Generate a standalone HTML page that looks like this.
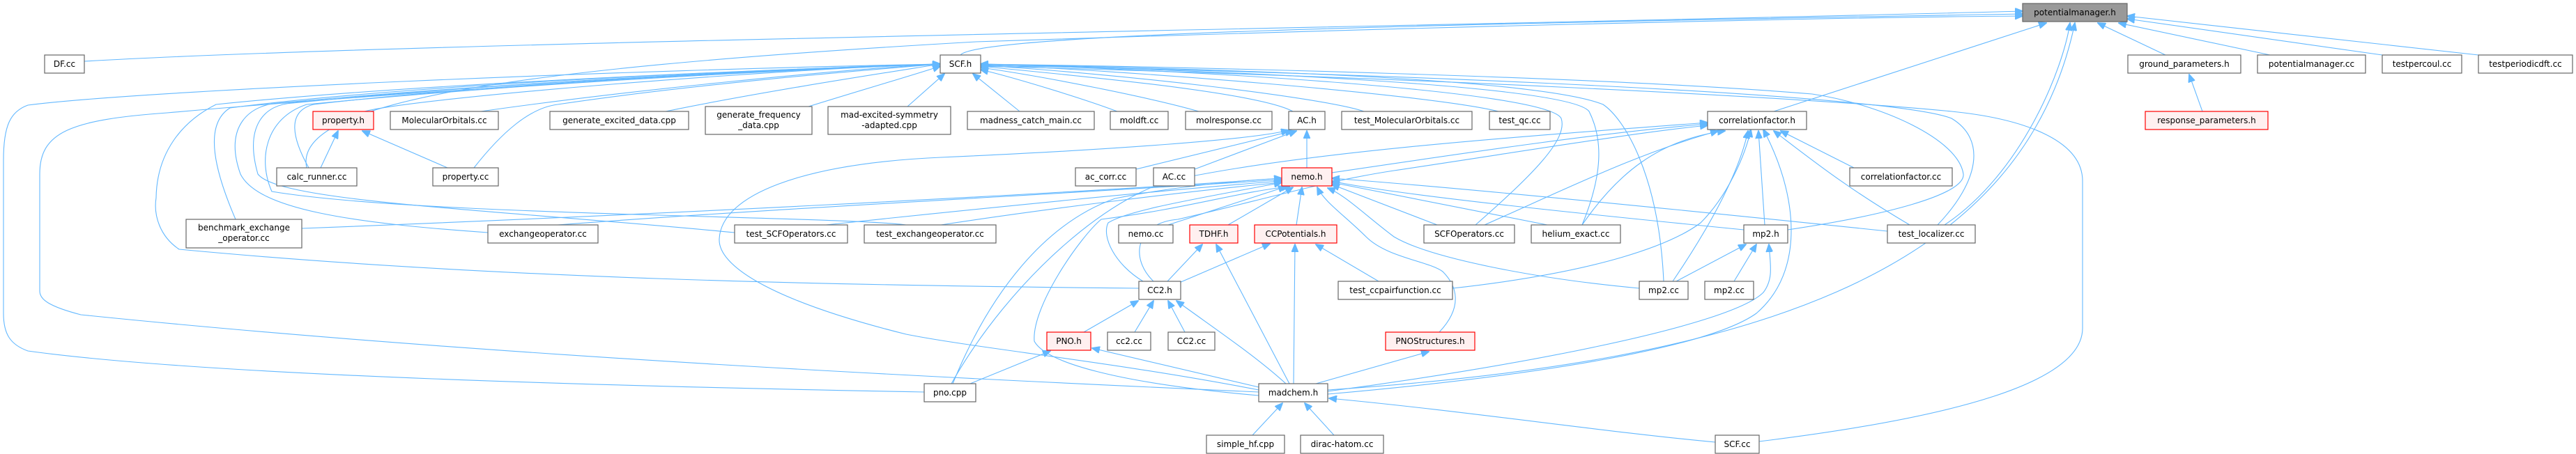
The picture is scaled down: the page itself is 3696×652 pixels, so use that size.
<!DOCTYPE html>
<html><head><meta charset="utf-8"><style>
html,body{margin:0;padding:0;background:#fff;}
svg{display:block;}
text{font-family:"DejaVu Sans","Liberation Sans",sans-serif;font-size:12px;fill:#000;}
.e{fill:none;stroke:#63b8ff;stroke-width:1.1;}
.n{fill:#fff;stroke:#666;stroke-width:1.2;}
.r{fill:#fff0f0;stroke:#ff0000;stroke-width:1.2;}
.g{fill:#999;stroke:#666;stroke-width:1.2;}
</style></head><body>
<svg width="3696" height="652" viewBox="0 0 3696 652" xmlns="http://www.w3.org/2000/svg">
<defs><marker id="a" markerWidth="12" markerHeight="10" refX="11" refY="5" orient="auto" markerUnits="userSpaceOnUse"><path d="M0,0 L12,5 L0,10 z" fill="#63b8ff" stroke="#63b8ff"/></marker></defs>
<g marker-end="url(#a)">
<!-- to potentialmanager.h -->
<path class="e" d="M121,88 C600,60 2000,40 2902,16"/>
<path class="e" d="M1378,79 C1400,50 2000,35 2902,20"/>
<path class="e" d="M440,241 C420,150 700,100 1400,60 C2000,40 2600,25 2902,23"/>
<path class="e" d="M3107,79 L3010,33"/>
<path class="e" d="M3257,79 L3040,33"/>
<path class="e" d="M3418,79 L3052,27"/>
<path class="e" d="M3556,79 L3052,23"/>
<path class="e" d="M2545,160 C2700,110 2850,60 2936,33"/>
<path class="e" d="M2790,323 C2900,250 2960,100 2970,33"/>
<path class="e" d="M1905,560 C2500,520 2900,400 2977,33"/>
<!-- to SCF.h -->
<path class="e" d="M443,241 C420,200 410,160 450,150 C700,120 1200,95 1349,92"/>
<path class="e" d="M523,160 C600,140 1100,100 1349,92"/>
<path class="e" d="M690,160 C900,130 1200,100 1349,92"/>
<path class="e" d="M680,241 C720,190 760,155 800,150 C1000,120 1250,100 1349,92"/>
<path class="e" d="M955,160 C1100,130 1300,100 1349,92"/>
<path class="e" d="M1160,153 C1250,125 1320,105 1349,95"/>
<path class="e" d="M1302,153 L1355,106"/>
<path class="e" d="M1463,160 L1396,106"/>
<path class="e" d="M1603,160 C1550,140 1450,110 1407,100"/>
<path class="e" d="M1720,160 C1650,140 1500,110 1407,97"/>
<path class="e" d="M1855,160 C1800,130 1500,105 1407,95"/>
<path class="e" d="M1957,160 C1900,140 1600,105 1407,94"/>
<path class="e" d="M2150,160 C2050,135 1600,100 1407,93"/>
<path class="e" d="M2117,323 C2200,250 2250,200 2240,170 C2220,130 1700,100 1407,92"/>
<path class="e" d="M2270,323 C2300,250 2300,200 2280,160 C2250,120 1700,100 1407,92"/>
<path class="e" d="M2387,404 C2380,250 2330,170 2300,150 C2200,110 1700,98 1407,92"/>
<path class="e" d="M2780,323 C2840,260 2850,200 2800,170 C2700,130 1800,100 1407,94"/>
<path class="e" d="M2565,330 C2700,310 2820,280 2817,250 C2810,200 2700,150 2600,135 C2300,110 1700,96 1407,92"/>
<path class="e" d="M338,315 C310,250 290,180 330,155 C600,120 1100,100 1349,92"/>
<path class="e" d="M700,334 C500,320 370,300 345,250 C320,180 360,150 400,148 C700,120 1100,100 1349,92"/>
<path class="e" d="M1054,334 C700,300 400,290 370,250 C350,180 380,150 420,148 C700,120 1100,100 1349,92"/>
<path class="e" d="M1300,323 C1200,310 600,310 390,275 C370,230 380,170 440,150 C800,115 1200,98 1349,92"/>
<path class="e" d="M1634,414 C1200,410 700,400 257,358 C230,340 220,310 224,284 C225,220 260,175 310,150 C600,120 1100,100 1349,92"/>
<path class="e" d="M1806,563 C1400,545 700,512 116,452 C70,440 57,430 57,418 L57,250 C57,190 100,172 240,162 C600,130 1100,100 1349,92"/>
<path class="e" d="M1326,563 C900,555 300,540 40,504 C15,495 5,480 5,450 L5,230 C5,180 15,160 40,151 C200,130 900,100 1349,92"/>
<path class="e" d="M2524,634 C2800,600 2990,550 2988,470 L2988,260 C2988,200 2900,170 2800,160 C2600,140 2000,110 1407,95"/>
<!-- to correlationfactor.h -->
<path class="e" d="M1911,248 C2100,220 2300,190 2450,178"/>
<path class="e" d="M1365,551 C1450,400 1600,270 1700,255 C1900,215 2200,195 2450,176"/>
<path class="e" d="M1655,404 C1620,370 1630,320 1690,315 C1800,290 1900,260 2000,245 C2200,215 2350,190 2450,180"/>
<path class="e" d="M1905,566 C2200,540 2450,500 2520,450 C2590,390 2580,280 2530,186"/>
<path class="e" d="M2084,414 C2300,390 2400,350 2440,320 C2480,280 2505,220 2512,186"/>
<path class="e" d="M2532,323 L2523,188"/>
<path class="e" d="M2400,404 C2450,330 2495,250 2508,188"/>
<path class="e" d="M2130,323 C2250,270 2350,220 2465,188"/>
<path class="e" d="M2270,323 C2320,250 2380,200 2475,188"/>
<path class="e" d="M2660,241 L2555,188"/>
<path class="e" d="M2740,323 C2650,270 2600,230 2545,188"/>
<!-- madchem.h parents -->
<path class="e" d="M1905,562 C2150,530 2480,470 2530,420 C2545,400 2540,380 2538,351"/>
<path class="e" d="M1806,568 C1600,550 1500,520 1484,490 C1480,440 1550,340 1580,315 C1700,300 1780,275 1850,268"/>
<path class="e" d="M1845,551 C1800,510 1740,470 1688,432"/>
<path class="e" d="M1806,556 L1567,500"/>
<path class="e" d="M1850,551 L1745,351"/>
<path class="e" d="M1856,551 L1858,351"/>
<path class="e" d="M1888,551 L2050,505"/>
<path class="e" d="M1806,560 C1600,520 1400,500 1300,480 C1100,430 1030,380 1032,343 C1035,280 1150,235 1350,226 C1600,215 1800,200 1849,187"/>
<path class="e" d="M2461,635 C2300,620 2100,590 1907,572"/>
<path class="e" d="M1797,625 L1840,579"/>
<path class="e" d="M1914,625 L1872,579"/>
<!-- misc -->
<path class="e" d="M1392,551 L1507,504"/>
<path class="e" d="M1367,551 C1420,420 1500,320 1600,285 C1700,265 1800,258 1839,256"/>
<path class="e" d="M1555,477 L1633,432"/>
<path class="e" d="M1628,477 L1655,432"/>
<path class="e" d="M1700,477 L1676,432"/>
<path class="e" d="M1675,404 L1725,351"/>
<path class="e" d="M1692,406 L1822,350"/>
<path class="e" d="M1640,404 C1600,380 1580,340 1590,320 C1620,300 1750,280 1839,262"/>
<path class="e" d="M1978,404 L1888,351"/>
<path class="e" d="M1762,323 L1855,269"/>
<path class="e" d="M1860,323 L1868,269"/>
<path class="e" d="M1676,323 L1845,268"/>
<path class="e" d="M2065,477 C2100,440 2090,410 2070,390 C2050,375 1990,370 1960,340 C1930,310 1900,290 1890,269"/>
<path class="e" d="M800,323 C1100,300 1500,280 1839,258"/>
<path class="e" d="M1185,323 C1400,300 1700,270 1839,260"/>
<path class="e" d="M1350,323 C1500,300 1700,275 1839,262"/>
<path class="e" d="M433,328 C900,310 1500,280 1839,256"/>
<path class="e" d="M2502,330 C2300,310 2000,280 1911,260"/>
<path class="e" d="M2062,323 L1911,265"/>
<path class="e" d="M2220,323 L1911,262"/>
<path class="e" d="M2352,414 C2200,400 2050,370 2000,340 C1960,310 1930,280 1905,270"/>
<path class="e" d="M2708,332 C2400,300 2100,270 1911,256"/>
<path class="e" d="M460,241 L485,188"/>
<path class="e" d="M642,241 L520,188"/>
<path class="e" d="M1630,243 L1855,188"/>
<path class="e" d="M1714,243 L1860,188"/>
<path class="e" d="M1875,241 L1875,188"/>
<path class="e" d="M2405,404 L2505,351"/>
<path class="e" d="M2488,404 L2520,351"/>
<path class="e" d="M3160,160 L3141,107"/>
</g>
<!-- nodes -->
<g>
<rect class="g" x="2902" y="5" width="150" height="26"/><text x="2977" y="22" text-anchor="middle">potentialmanager.h</text>
<rect class="n" x="64" y="79" width="57" height="26"/><text x="92.5" y="96" text-anchor="middle">DF.cc</text>
<rect class="n" x="1349" y="79" width="58" height="26"/><text x="1378" y="96" text-anchor="middle">SCF.h</text>
<rect class="n" x="3053" y="79" width="162" height="26"/><text x="3134" y="96" text-anchor="middle">ground_parameters.h</text>
<rect class="n" x="3239" y="79" width="155" height="26"/><text x="3316.5" y="96" text-anchor="middle">potentialmanager.cc</text>
<rect class="n" x="3418" y="79" width="114" height="26"/><text x="3475" y="96" text-anchor="middle">testpercoul.cc</text>
<rect class="n" x="3556" y="79" width="135" height="26"/><text x="3623.5" y="96" text-anchor="middle">testperiodicdft.cc</text>
<rect class="r" x="449" y="160" width="87" height="26"/><text x="492.5" y="177" text-anchor="middle">property.h</text>
<rect class="n" x="560" y="160" width="155" height="26"/><text x="637.5" y="177" text-anchor="middle">MolecularOrbitals.cc</text>
<rect class="n" x="789" y="160" width="199" height="26"/><text x="888.5" y="177" text-anchor="middle">generate_excited_data.cpp</text>
<rect class="n" x="1012" y="153" width="153" height="40"/><text x="1088.5" y="169" text-anchor="middle">generate_frequency</text><text x="1088.5" y="184" text-anchor="middle">_data.cpp</text>
<rect class="n" x="1188" y="153" width="176" height="40"/><text x="1276" y="169" text-anchor="middle">mad-excited-symmetry</text><text x="1276" y="184" text-anchor="middle">-adapted.cpp</text>
<rect class="n" x="1388" y="160" width="182" height="26"/><text x="1479" y="177" text-anchor="middle">madness_catch_main.cc</text>
<rect class="n" x="1593" y="160" width="83" height="26"/><text x="1634.5" y="177" text-anchor="middle">moldft.cc</text>
<rect class="n" x="1701" y="160" width="124" height="26"/><text x="1763" y="177" text-anchor="middle">molresponse.cc</text>
<rect class="n" x="1849" y="160" width="52" height="26"/><text x="1875" y="177" text-anchor="middle">AC.h</text>
<rect class="n" x="1925" y="160" width="187" height="26"/><text x="2018.5" y="177" text-anchor="middle">test_MolecularOrbitals.cc</text>
<rect class="n" x="2137" y="160" width="87" height="26"/><text x="2180.5" y="177" text-anchor="middle">test_qc.cc</text>
<rect class="n" x="2450" y="160" width="142" height="26"/><text x="2521" y="177" text-anchor="middle">correlationfactor.h</text>
<rect class="r" x="3078" y="160" width="176" height="26"/><text x="3166" y="177" text-anchor="middle">response_parameters.h</text>
<rect class="n" x="397" y="241" width="115" height="26"/><text x="454.5" y="258" text-anchor="middle">calc_runner.cc</text>
<rect class="n" x="621" y="241" width="94" height="26"/><text x="668" y="258" text-anchor="middle">property.cc</text>
<rect class="n" x="1543" y="241" width="87" height="26"/><text x="1586.5" y="258" text-anchor="middle">ac_corr.cc</text>
<rect class="n" x="1655" y="241" width="59" height="26"/><text x="1684.5" y="258" text-anchor="middle">AC.cc</text>
<rect class="r" x="1839" y="241" width="72" height="26"/><text x="1875" y="258" text-anchor="middle">nemo.h</text>
<rect class="n" x="2654" y="241" width="147" height="26"/><text x="2727.5" y="258" text-anchor="middle">correlationfactor.cc</text>
<rect class="n" x="267" y="315" width="166" height="41"/><text x="350" y="331" text-anchor="middle">benchmark_exchange</text><text x="350" y="346" text-anchor="middle">_operator.cc</text>
<rect class="n" x="700" y="323" width="158" height="26"/><text x="779" y="340" text-anchor="middle">exchangeoperator.cc</text>
<rect class="n" x="1054" y="323" width="162" height="26"/><text x="1135" y="340" text-anchor="middle">test_SCFOperators.cc</text>
<rect class="n" x="1240" y="323" width="189" height="26"/><text x="1334.5" y="340" text-anchor="middle">test_exchangeoperator.cc</text>
<rect class="n" x="1605" y="323" width="78" height="26"/><text x="1644" y="340" text-anchor="middle">nemo.cc</text>
<rect class="r" x="1707" y="323" width="69" height="26"/><text x="1741.5" y="340" text-anchor="middle">TDHF.h</text>
<rect class="r" x="1800" y="323" width="118" height="26"/><text x="1859" y="340" text-anchor="middle">CCPotentials.h</text>
<rect class="n" x="2043" y="323" width="130" height="26"/><text x="2108" y="340" text-anchor="middle">SCFOperators.cc</text>
<rect class="n" x="2197" y="323" width="128" height="26"/><text x="2261" y="340" text-anchor="middle">helium_exact.cc</text>
<rect class="n" x="2502" y="323" width="63" height="26"/><text x="2533.5" y="340" text-anchor="middle">mp2.h</text>
<rect class="n" x="2708" y="323" width="126" height="26"/><text x="2771" y="340" text-anchor="middle">test_localizer.cc</text>
<rect class="n" x="1634" y="404" width="60" height="26"/><text x="1664" y="421" text-anchor="middle">CC2.h</text>
<rect class="n" x="1920" y="404" width="164" height="26"/><text x="2002" y="421" text-anchor="middle">test_ccpairfunction.cc</text>
<rect class="n" x="2352" y="404" width="70" height="26"/><text x="2387" y="421" text-anchor="middle">mp2.cc</text>
<rect class="n" x="2446" y="404" width="70" height="26"/><text x="2481" y="421" text-anchor="middle">mp2.cc</text>
<rect class="r" x="1502" y="477" width="63" height="26"/><text x="1533.5" y="494" text-anchor="middle">PNO.h</text>
<rect class="n" x="1589" y="477" width="62" height="26"/><text x="1620" y="494" text-anchor="middle">cc2.cc</text>
<rect class="n" x="1676" y="477" width="67" height="26"/><text x="1709.5" y="494" text-anchor="middle">CC2.cc</text>
<rect class="r" x="1988" y="477" width="128" height="26"/><text x="2052" y="494" text-anchor="middle">PNOStructures.h</text>
<rect class="n" x="1326" y="551" width="74" height="26"/><text x="1363" y="568" text-anchor="middle">pno.cpp</text>
<rect class="n" x="1806" y="551" width="99" height="26"/><text x="1855.5" y="568" text-anchor="middle">madchem.h</text>
<rect class="n" x="1731" y="625" width="112" height="26"/><text x="1787" y="642" text-anchor="middle">simple_hf.cpp</text>
<rect class="n" x="1866" y="625" width="119" height="26"/><text x="1925.5" y="642" text-anchor="middle">dirac-hatom.cc</text>
<rect class="n" x="2461" y="625" width="63" height="26"/><text x="2492.5" y="642" text-anchor="middle">SCF.cc</text>
</g>
</svg>
</body></html>
